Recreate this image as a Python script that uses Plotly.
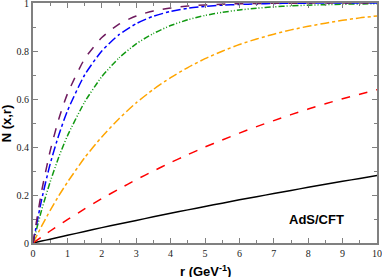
import plotly.graph_objects as go

r = [0, 0.25, 0.5, 0.75, 1, 1.5, 2, 2.5, 3, 3.5, 4, 4.5, 5, 5.5, 6, 6.5, 7, 7.5, 8, 8.5, 9, 9.5, 10]

n_purple = [0, 0.215, 0.384, 0.517, 0.621, 0.767, 0.856, 0.912, 0.946, 0.967, 0.979, 0.987, 0.992,
            0.995, 0.997, 0.998, 0.999, 0.999, 1.0, 1.0, 1.0, 1.0, 1.0]
n_blue = [0, 0.18, 0.33, 0.45, 0.55, 0.70, 0.80, 0.868, 0.914, 0.945, 0.965, 0.978, 0.986,
          0.991, 0.994, 0.996, 0.998, 0.999, 0.999, 1.0, 1.0, 1.0, 1.0]
n_green = [0, 0.137, 0.255, 0.358, 0.446, 0.587, 0.693, 0.771, 0.830, 0.873, 0.906, 0.930, 0.948,
           0.961, 0.971, 0.978, 0.984, 0.988, 0.991, 0.993, 0.995, 0.996, 0.997]
n_orange = [0, 0.070, 0.136, 0.197, 0.253, 0.355, 0.442, 0.518, 0.584, 0.640, 0.689, 0.731, 0.768,
            0.799, 0.827, 0.850, 0.870, 0.888, 0.903, 0.916, 0.928, 0.938, 0.946]
n_red = [0, 0.025, 0.050, 0.074, 0.097, 0.142, 0.185, 0.225, 0.264, 0.300, 0.335, 0.368, 0.400,
         0.429, 0.458, 0.485, 0.510, 0.535, 0.558, 0.580, 0.601, 0.620, 0.639]
n_black = [0, 0.008, 0.016, 0.024, 0.032, 0.048, 0.064, 0.079, 0.094, 0.109, 0.124, 0.138, 0.152,
           0.166, 0.180, 0.193, 0.206, 0.219, 0.232, 0.245, 0.257, 0.269, 0.281]

x_ticks = [0, 1, 2, 3, 4, 5, 6, 7, 8, 9, 10]
y_ticks = [0, 0.2, 0.4, 0.6, 0.8, 1]

series = [
    (n_black, "#000000", "solid"),
    (n_red, "#ff0000", "dash"),
    (n_orange, "#ffa500", "dashdot"),
    (n_green, "#119911", "6px,2px,1px,2px,1px,2px"),
    (n_blue, "#0000ff", "dashdot"),
    (n_purple, "#6e1a5e", "dash"),
]

fig = go.Figure()
for ys, col, dash in series:
    fig.add_trace(go.Scatter(x=r, y=ys, mode="lines", line=dict(color=col, width=1.5, dash=dash, shape="spline", smoothing=0.6), showlegend=False))

title_font = dict(family="Liberation Sans, Arial", size=13, color="black")

fig.add_annotation(x=8.24, y=0.10, text="<b>AdS/CFT</b>", showarrow=False, font=title_font)
fig.add_annotation(xref="paper", yref="paper", x=0.5, y=-0.075, yanchor="top",
                   text="<b>r (GeV<sup>-1</sup>)</b>", showarrow=False, font=title_font)
fig.add_annotation(xref="paper", yref="paper", x=-0.05, xanchor="right", y=0.5,
                   text="<b>N (x,r)</b>", textangle=-90, showarrow=False, font=title_font)

axis_common = dict(showline=True, linecolor="#808080", linewidth=2, mirror="ticks",
                   ticks="inside", ticklen=5, tickcolor="#808080", tickwidth=1.2,
                   showgrid=False, zeroline=False, automargin=False,
                   ticklabeloverflow="allow",
                   tickfont=dict(family="Liberation Serif, Times New Roman", size=10, color="#222222"))

fig.update_xaxes(range=[0, 10], tickvals=x_ticks, **axis_common,
                 minor=dict(ticks="inside", ticklen=3, dtick=0.5, tickcolor="#808080"))
fig.update_yaxes(range=[0, 1], tickvals=y_ticks, **axis_common,
                 minor=dict(ticks="inside", ticklen=3, dtick=0.1, tickcolor="#808080"))

fig.update_layout(width=382, height=277, margin=dict(l=33, r=5, t=3, b=34, autoexpand=False),
                  plot_bgcolor="white", paper_bgcolor="white")

fig.write_html("out.html", config={"displayModeBar": False},
               post_script="document.body.style.margin='0';document.body.style.overflow='hidden';")
